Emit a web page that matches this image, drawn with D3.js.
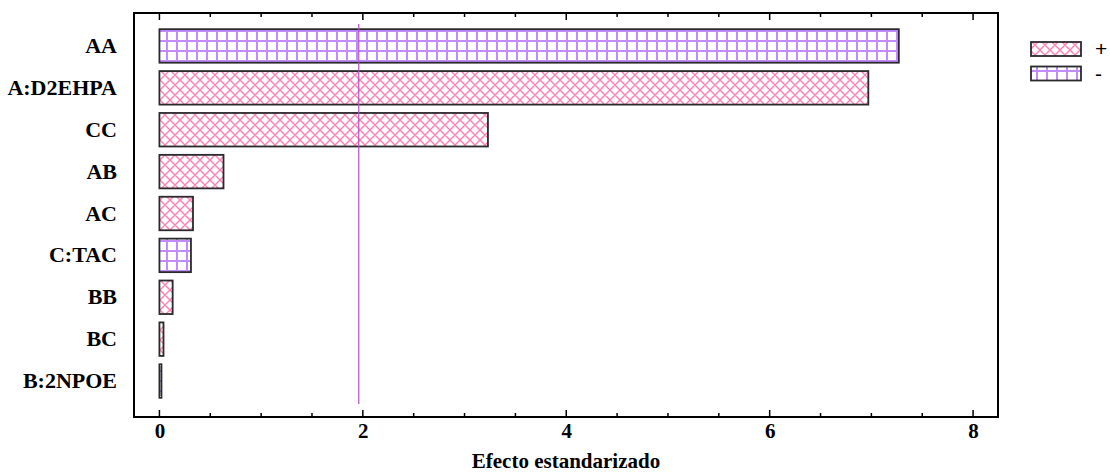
<!DOCTYPE html>
<html><head><meta charset="utf-8">
<script src="https://cdn.jsdelivr.net/npm/d3@7"></script>
<style>body{margin:0;background:#fff;} svg{display:block;}</style>
</head><body>
<svg id="c" width="1110" height="473"></svg>
<script>
const categories = ["AA","A:D2EHPA","CC","AB","AC","C:TAC","BB","BC","B:2NPOE"];
const effects    = [7.27, 6.97, 3.23, 0.63, 0.33, 0.31, 0.13, 0.04, 0.02];
const signs      = ["-","+","+","+","+","-","+","+","-"];
const criticalValue = 1.96;
const majorTicks = [0,2,4,6,8];
const minorTicks = [0.5,1,1.5,2.5,3,3.5,4.5,5,5.5,6.5,7,7.5];
const legendLabels = ["+","-"];
const xTitle = "Efecto estandarizado";

const svg = d3.select("#c");
const L = 134, R = 998, T = 13, B = 417;
const serif = "'Liberation Serif', 'Times New Roman', serif";
const x = d3.scaleLinear().domain([-0.25, 8.245]).range([L, R]);
const y = d3.scaleBand().domain(categories).range([25, 402]).paddingInner(0.2).paddingOuter(0.1);

const defs = svg.append("defs");
const pk = defs.append("pattern").attr("id","pPlus").attr("patternUnits","userSpaceOnUse")
  .attr("width",10).attr("height",10);
pk.append("rect").attr("width",10).attr("height",10).attr("fill","#fff");
pk.append("path").attr("d","M0,0L10,10M10,0L0,10M-5,5L0,10M5,-5L15,5M-5,5L5,-5M5,15L15,5")
  .attr("stroke","#ff80b4").attr("stroke-width",1.4).attr("fill","none");
const pm = defs.append("pattern").attr("id","pMinus").attr("patternUnits","userSpaceOnUse")
  .attr("width",10).attr("height",10).attr("x",6).attr("y",0);
pm.append("rect").attr("width",10).attr("height",10).attr("fill","#fff");
pm.append("path").attr("d","M1,0V10M0,1H10").attr("stroke","#c28cff").attr("stroke-width",2).attr("fill","none");

const fillFor = s => s === "+" ? "url(#pPlus)" : "url(#pMinus)";

svg.append("g").selectAll("rect").data(categories).join("rect")
  .attr("x", x(0))
  .attr("y", d => y(d))
  .attr("width", (d,i) => Math.max(1, x(effects[i]) - x(0)))
  .attr("height", y.bandwidth())
  .attr("fill", (d,i) => fillFor(signs[i]))
  .attr("stroke", "#2a2a2a")
  .attr("stroke-width", 1.8);

svg.append("line").attr("x1", x(criticalValue)).attr("x2", x(criticalValue))
  .attr("y1", 24).attr("y2", 404).attr("stroke", "#b050c0").attr("stroke-width", 1.2);

svg.append("rect").attr("x", L).attr("y", T).attr("width", R-L).attr("height", B-T)
  .attr("fill","none").attr("stroke","#000").attr("stroke-width",2);

const bottomAxis = d3.axisBottom(x).tickValues(majorTicks).tickSize(0).tickFormat(d3.format("d")).tickPadding(6);
const gb = svg.append("g").attr("transform", `translate(0,${B})`).call(bottomAxis);
gb.select(".domain").remove();
gb.selectAll("text").attr("font-family",serif)
  .attr("font-weight","bold").attr("font-size","21px").attr("fill","#000");

const tk = svg.append("g").attr("stroke","#000").attr("stroke-width",1.5);
majorTicks.forEach(v => {
  tk.append("line").attr("x1",x(v)).attr("x2",x(v)).attr("y1",B).attr("y2",B-7);
  tk.append("line").attr("x1",x(v)).attr("x2",x(v)).attr("y1",T).attr("y2",T+7);
});
minorTicks.forEach(v => {
  tk.append("line").attr("x1",x(v)).attr("x2",x(v)).attr("y1",B).attr("y2",B-4);
  tk.append("line").attr("x1",x(v)).attr("x2",x(v)).attr("y1",T).attr("y2",T+4);
});

const leftAxis = d3.axisLeft(y).tickSize(0).tickPadding(17);
const gl = svg.append("g").attr("transform", `translate(${L},0)`).call(leftAxis);
gl.select(".domain").remove();
gl.selectAll("text").attr("font-family",serif)
  .attr("font-weight","bold").attr("font-size","22px").attr("fill","#000");

svg.append("text").attr("x",(L+R)/2).attr("y",468).attr("text-anchor","middle")
  .attr("font-family",serif)
  .attr("font-weight","bold").attr("font-size","21px").text(xTitle);

const lg = svg.append("g");
legendLabels.forEach((lab, i) => {
  const yy = 42 + i*24.5;
  lg.append("rect").attr("x",1031).attr("y",yy).attr("width",50).attr("height",14)
    .attr("fill", fillFor(lab)).attr("stroke","#2a2a2a").attr("stroke-width",1.8);
  lg.append("text").attr("x",1095).attr("y",yy+14).attr("font-family","'Liberation Sans', Arial, sans-serif")
    .attr("font-size","21px").attr("fill","#000").text(lab);
});
</script>
</body></html>
